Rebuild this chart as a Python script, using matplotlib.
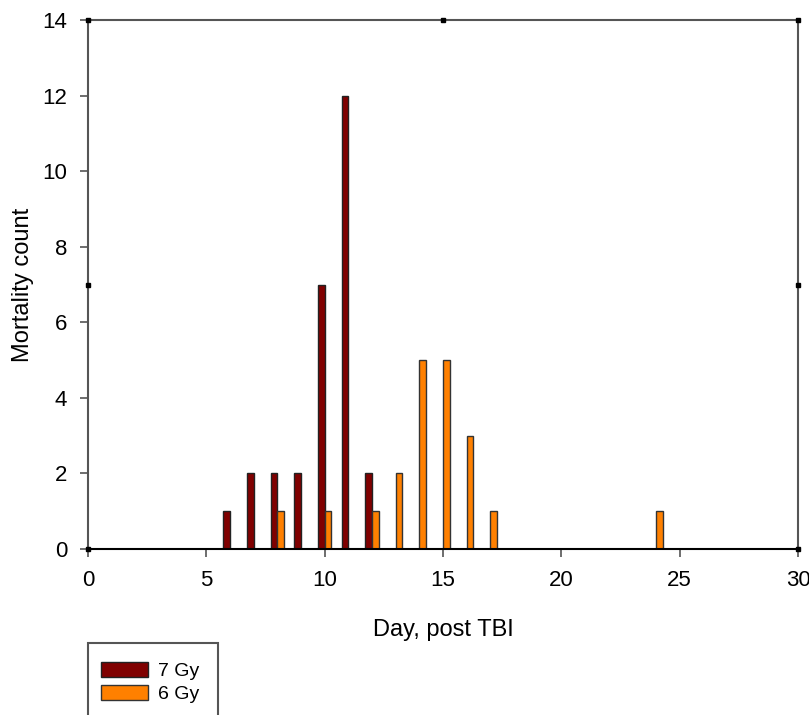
import matplotlib.pyplot as plt
from matplotlib.patches import Rectangle

plt.rcParams['font.family'] = ['Liberation Sans', 'DejaVu Sans']

days_7gy = [6, 7, 8, 9, 10, 11, 12]
deaths_7gy = [1, 2, 2, 2, 7, 12, 2]
days_6gy = [8, 10, 12, 13, 14, 15, 16, 17, 24]
deaths_6gy = [1, 1, 1, 2, 5, 5, 3, 1, 1]

fig = plt.figure(figsize=(8.09, 7.15), dpi=100)
ax = fig.add_axes([88 / 809, 1 - 549 / 715, 710 / 809, 529 / 715])

w = 0.28
ax.bar(days_7gy, deaths_7gy, width=-w, align="edge", color="#800000",
       edgecolor="#222222", linewidth=1, label="7 Gy")
ax.bar(days_6gy, deaths_6gy, width=w, align="edge", color="#ff8000",
       edgecolor="#333333", linewidth=1, label="6 Gy")

ax.set_xlim(0, 30)
ax.set_ylim(0, 14)
ax.set_xticks([0, 5, 10, 15, 20, 25, 30])
ax.set_yticks([0, 2, 4, 6, 8, 10, 12, 14])
ax.tick_params(direction="out", length=6, width=1.2, color="#555555",
               labelsize=16, pad=9)
for s in ["left", "right", "top"]:
    ax.spines[s].set_color("#555555")
    ax.spines[s].set_linewidth(1.5)
ax.spines["bottom"].set_color("black")
ax.spines["bottom"].set_linewidth(1.5)

# small corner / mid marks
ax.plot([0, 0, 30, 30, 15, 30, 0], [0, 14, 0, 14, 14, 7, 7], "s", color="black",
        markersize=3.5, clip_on=False, zorder=5)

ax.set_xlabel("Day, post TBI", fontsize=17, labelpad=20)
ax.set_ylabel("Mortality count", fontsize=17, labelpad=6)

fig.patches.append(Rectangle((88 / 809, -0.02), 130 / 809, (715 - 643) / 715 + 0.02,
                             transform=fig.transFigure, facecolor="white",
                             edgecolor="#555555", linewidth=1.5))
fig.legend(loc="upper left", bbox_to_anchor=(101 / 809, 1 - 662 / 715),
           frameon=False, fontsize=14, handlelength=2.4, handleheight=0.8,
           labelspacing=0.25, handletextpad=0.55, borderaxespad=0, borderpad=0)

fig.savefig("out.png", dpi=100)
